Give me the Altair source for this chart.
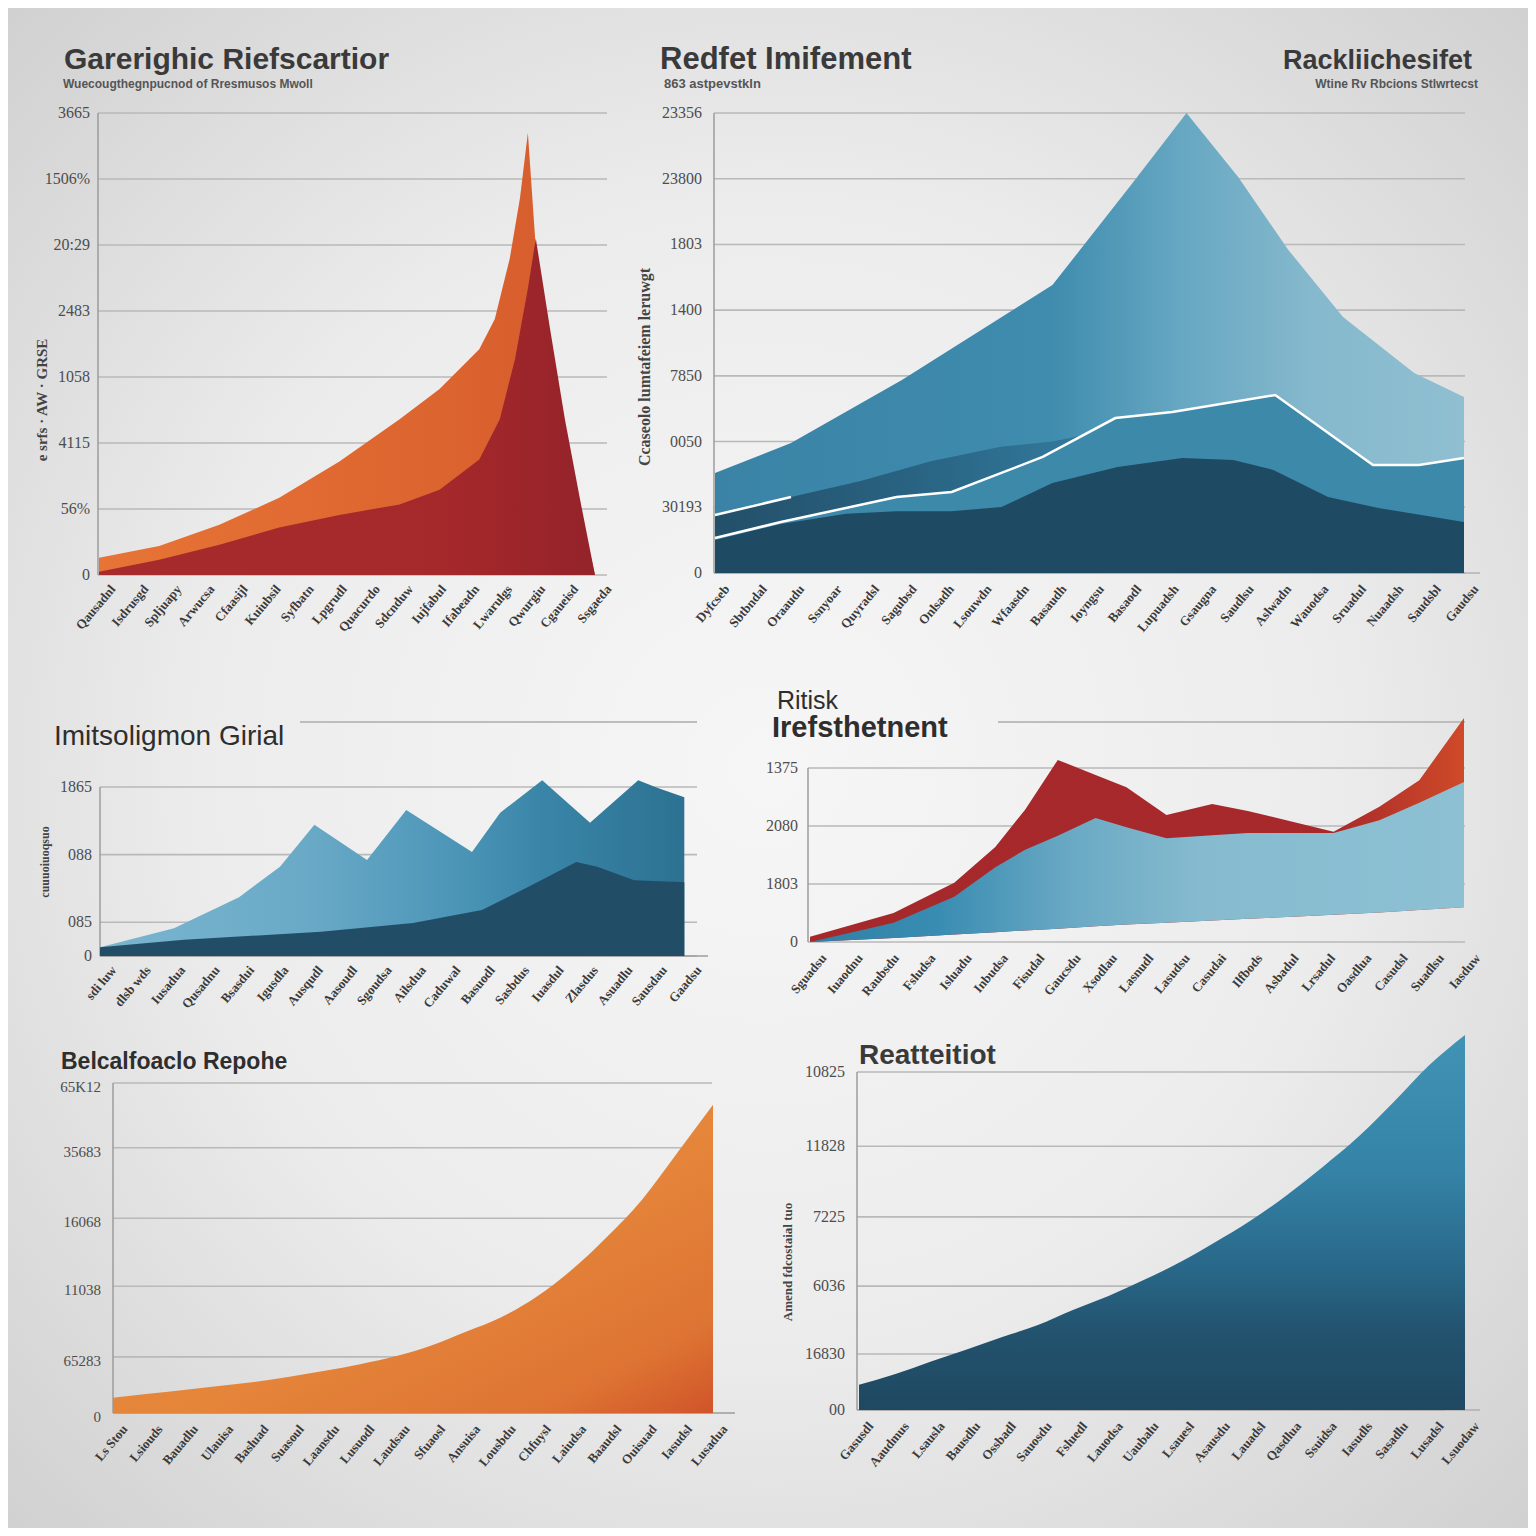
import pandas as pd
import altair as alt

SANS = "Liberation Sans"
SERIF = "Liberation Serif"
GRID = "#b9b9b9"
DOMAIN = "#9c9c9c"

# ---------------- text ----------------
p1_title = "Garerighic Riefscartior"
p1_subtitle = "Wuecougthegnpucnod of Rresmusos Mwoll"
p1_ytitle = "e srfs · AW · GRSE"
p2_title = "Redfet Imifement"
p2_subtitle = "863 astpevstkln"
p2_right_title = "Rackliichesifet"
p2_right_subtitle = "Wtine Rv Rbcions Stlwrtecst"
p2_ytitle = "Ccaseolo lumtafeiem leruwgt"
p3_title = "Imitsoligmon Girial"
p3_ytitle = "cuuuoiuoqsuo"
p4_title = ["Ritisk", "Irefsthetnent"]
p5_title = "Belcalfoaclo Repohe"
p6_title = "Reatteitiot"
p6_ytitle = "Amend fdcostaial tuo"

p1_xlabels = ["Qausadnl", "Isdrusgd", "Spljuapy", "Arwucsa", "Cfaasijl", "Kuiubsil", "Syfbatn",
              "Lpgrudl", "Quacurdo", "Sdcnduw", "Iujfabul", "Ifabeadn", "Lwarulgs", "Qwurgiu",
              "Cgaueisd", "Ssgaeda"]
p2_xlabels = ["Dyfcseb", "Sbtbndal", "Oraaudu", "Ssnyoar", "Quyradsl", "Sagubsd", "Onlsadh",
              "Lsouwdn", "Wfaasdn", "Basaudh", "Ioyngsu", "Basaodl", "Lupuadsh", "Gsaugna",
              "Saudlsu", "Aslwadn", "Wauodsa", "Sruadul", "Nuaadsh", "Saudsbl", "Gaudsu"]
p3_xlabels = ["sdi luw", "dlsb wds", "Iusadua", "Qusadnu", "Bsasdui", "Igusdla", "Ausqudl",
              "Aasoudl", "Sgoudsa", "Ailsdua", "Caduwal", "Basuodl", "Sasbdus", "Iuasdul",
              "Zlasdus", "Asuadlu", "Sausdau", "Gaadsu"]
p4_xlabels = ["Sguadsu", "Iuaodnu", "Raubsdu", "Fsludsa", "Isluadu", "Inbudsa", "Fisudal",
              "Gaucsdu", "Xsodlau", "Lasnudl", "Lasudsu", "Casudai", "Ilfbods", "Asbadul",
              "Lrsadul", "Oasdlua", "Casudsl", "Suadlsu", "Iasduw"]
p5_xlabels = ["Ls Stou", "Lsiouds", "Bauadlu", "Ulauisa", "Basluad", "Suasoul", "Laansdu",
              "Lusuodl", "Laudsau", "Sfuaosl", "Ansuisa", "Lousbdu", "Chfuysl", "Laiudsa",
              "Baaudsl", "Ouisuad", "Iasudsl", "Lusadua"]
p6_xlabels = ["Gasusdl", "Aaudmus", "Lsausla", "Bausdlu", "Ossbadl", "Sauosdu", "Fsluedl",
              "Lauodsa", "Uaubalu", "Lsauesl", "Asausdu", "Lauadsl", "Qasdlua", "Ssuidsa",
              "Iasudls", "Sasadlu", "Lusadsl", "Lsuodaw"]

# ---------------- y ticks ----------------
p1_yticks = [0, 100, 200, 300, 400, 500, 600, 700]
p1_ylabels = ["0", "56%", "4115", "1058", "2483", "20:29", "1506%", "3665"]
p2_yticks = [0, 500, 1000, 1500, 2000, 2500, 3000, 3500]
p2_ylabels = ["0", "30193", "0050", "7850", "1400", "1803", "23800", "23356"]
p3_yticks = [0, 0.5, 1.5, 2.5]
p3_ylabels = ["0", "085", "088", "1865"]
p4_yticks = [0, 1, 2, 3]
p4_ylabels = ["0", "1803", "2080", "1375"]
p5_yticks = [0, 0.85, 1.92, 2.95, 4.02, 5]
p5_ylabels = ["0", "65283", "11038", "16068", "35683", "65K12"]
p6_yticks = [0, 0.8, 1.77, 2.76, 3.77, 4.83]
p6_ylabels = ["00", "16830", "6036", "7225", "11828", "10825"]

# ---------------- series ----------------
p1_orange_x = [0, 1.82, 3.64, 5.45, 7.27, 9.09, 10.3, 11.5, 11.97, 12.42, 12.73, 12.97, 13.21, 13.94, 15]
p1_orange_y = [26, 44, 76, 117, 172, 236, 282, 342, 388, 479, 571, 670, 495, 236, 0]
p1_red_x = [0, 1.82, 3.64, 5.45, 7.27, 9.09, 10.3, 11.5, 12.12, 12.58, 12.97, 13.21, 13.64, 14.09, 14.55, 15]
p1_red_y = [5, 23, 46, 72, 91, 107, 129, 175, 236, 327, 434, 510, 373, 236, 114, 0]

p2_a_x = [0, 2.03, 4.99, 9.01, 11.15, 12.59, 13.97, 15.31, 16.77, 18.67, 20]
p2_a_y = [761, 989, 1469, 2191, 2967, 3500, 3013, 2458, 1948, 1522, 1339]
p2_b_x = [0, 2.03, 3.89, 5.76, 7.63, 9.01, 10.69, 12.21, 14.96, 17.57, 20]
p2_b_y = [441, 578, 700, 850, 960, 1000, 1100, 1150, 1250, 780, 820]
p2_c_x = [0, 1.76, 4.85, 6.32, 8.75, 10.69, 12.21, 14.96, 17.57, 18.8, 20]
p2_c_y = [266, 388, 578, 616, 883, 1179, 1225, 1354, 822, 822, 875]
p2_d_x = [0, 1.76, 3.5, 4.85, 6.32, 7.65, 9.01, 10.75, 12.48, 13.84, 14.91, 16.37, 17.71, 20]
p2_d_y = [251, 373, 450, 470, 470, 502, 685, 807, 875, 860, 784, 578, 495, 388]

p3_light_x = [0, 2.15, 4.04, 5.23, 6.23, 7.76, 8.9, 10.81, 11.63, 12.85, 14.24, 15.64, 16.19, 16.98]
p3_light_y = [0.13, 0.41, 0.87, 1.32, 1.94, 1.42, 2.16, 1.54, 2.12, 2.60, 1.97, 2.60, 2.49, 2.35]
p3_navy_x = [0, 2.44, 6.42, 9.1, 11.1, 12.44, 13.84, 14.45, 15.52, 16.98]
p3_navy_y = [0.13, 0.24, 0.36, 0.49, 0.68, 1.02, 1.39, 1.32, 1.12, 1.09]

p4_x = [0, 2.3, 3.97, 5.1, 5.92, 6.82, 7.86, 8.71, 9.81, 11.07, 12.05, 13.42, 14.41, 15.67, 16.77, 18]
p4_red = [0.09, 0.5, 1.02, 1.64, 2.28, 3.14, 2.88, 2.67, 2.19, 2.38, 2.26, 2.05, 1.90, 2.33, 2.79, 3.86]
p4_blue = [0.0, 0.33, 0.78, 1.29, 1.59, 1.83, 2.14, 1.98, 1.79, 1.84, 1.88, 1.88, 1.88, 2.10, 2.40, 2.76]
p4_base = [0, 0.07, 0.13, 0.17, 0.2, 0.23, 0.27, 0.3, 0.33, 0.37, 0.4, 0.44, 0.47, 0.51, 0.55, 0.6]

p5_y = [0.23, 0.29, 0.35, 0.41, 0.47, 0.55, 0.64, 0.74, 0.86, 1.02, 1.23, 1.45, 1.76, 2.17, 2.67, 3.24, 3.95, 4.67]
p6_y = [0.36, 0.51, 0.69, 0.86, 1.04, 1.21, 1.43, 1.63, 1.86, 2.11, 2.4, 2.71, 3.07, 3.47, 3.9, 4.4, 4.93, 5.36]


# ---------------- helpers ----------------
def lin(stops, x1=0, y1=0, x2=1, y2=0):
    return alt.LinearGradient(gradient="linear", x1=x1, y1=y1, x2=x2, y2=y2,
                              stops=[alt.GradientStop(offset=o, color=c) for o, c in stops])


def lmap(v0, p0, v1, p1):
    k = (p1 - p0) / (v1 - v0)
    return lambda p: v0 + (p - p0) / k


class Panel:
    """A grid cell whose scales are set so data lands on the wanted page pixels."""

    def __init__(self, cell, xmap, ymap):
        x0, y0, x1, y1 = cell
        self.ox, self.oy = x0, y0
        self.w, self.h = x1 - x0, y1 - y0
        fx = lmap(*xmap)
        fy = lmap(ymap[0], -ymap[1], ymap[2], -ymap[3])
        self.px = fx
        self.py = lambda p: fy(-p)
        self.xs = alt.Scale(domain=[round(fx(x0), 5), round(fx(x1), 5)], nice=False, zero=False)
        self.ys = alt.Scale(domain=[round(self.py(y1), 5), round(self.py(y0), 5)], nice=False, zero=False)
        self.layers = []

    def X(self, f="x"):
        return alt.X(f"{f}:Q", scale=self.xs, axis=None)

    def Y(self, f="y"):
        return alt.Y(f"{f}:Q", scale=self.ys, axis=None)

    def grid(self, ticks, xa_px, xb_px, color=GRID, width=1.6):
        df = pd.DataFrame({"y": ticks, "x": [self.px(xa_px)] * len(ticks), "x2": [self.px(xb_px)] * len(ticks)})
        self.layers.append(alt.Chart(df).mark_rule(color=color, strokeWidth=width).encode(
            x=self.X(), x2="x2:Q", y=self.Y()))

    def hline(self, y_val, xa_px, xb_px, color=GRID, width=1.6):
        self.grid([y_val], xa_px, xb_px, color, width)

    def vline(self, x_px, ya, yb, color=DOMAIN, width=1.5):
        df = pd.DataFrame({"x": [self.px(x_px)], "y": [ya], "y2": [yb]})
        self.layers.append(alt.Chart(df).mark_rule(color=color, strokeWidth=width).encode(
            x=self.X(), y=self.Y(), y2="y2:Q"))

    def ylabels(self, ticks, labels, axis_px, pad=8, size=16, yo=0):
        df = pd.DataFrame({"x": [self.px(axis_px)] * len(ticks), "y": ticks, "t": labels})
        self.layers.append(alt.Chart(df).mark_text(
            align="right", baseline="middle", xOffset=-pad, yOffset=yo, font=SERIF, fontSize=size,
            color="#4d4d4d"
        ).encode(x=self.X(), y=self.Y(), text="t:N"))

    def xlabels(self, labels, xo=10, yo=12, size=13):
        df = pd.DataFrame({"x": list(range(len(labels))), "y": [0] * len(labels), "t": labels})
        self.layers.append(alt.Chart(df).mark_text(
            angle=310, align="right", baseline="middle", xOffset=xo, yOffset=yo,
            font=SERIF, fontSize=size, fontWeight="bold", color="#3a3a3a"
        ).encode(x=self.X(), y=self.Y(), text="t:N"))

    def area(self, xs, ys, color, interp="linear", y2=None):
        df = pd.DataFrame({"x": xs, "y": ys})
        enc = dict(x=self.X(), y=self.Y())
        if y2 is not None:
            df["y2"] = y2
            enc["y2"] = "y2:Q"
        self.layers.append(alt.Chart(df).mark_area(color=color, interpolate=interp).encode(**enc))

    def line(self, xs, ys, color="white", width=2.5):
        df = pd.DataFrame({"x": xs, "y": ys})
        self.layers.append(alt.Chart(df).mark_line(color=color, strokeWidth=width).encode(
            x=self.X(), y=self.Y()))

    def text(self, t, page_x, page_y, size, weight="bold", align="left", color="#3a3a3a",
             font=SANS, angle=0, baseline="alphabetic"):
        self.layers.append(alt.Chart(pd.DataFrame({"t": [t]})).mark_text(
            align=align, baseline=baseline, font=font, fontSize=size, fontWeight=weight,
            color=color, angle=angle
        ).encode(x=alt.value(page_x - self.ox), y=alt.value(page_y - self.oy), text="t:N"))

    def ytitle(self, t, page_x, page_y, size):
        self.text(t, page_x, page_y, size, weight="bold", align="center", color="#444",
                  font=SERIF, angle=270, baseline="middle")

    def chart(self):
        return alt.layer(*self.layers).properties(width=self.w, height=self.h)


# grid cells (page pixels): column edges 98 | 714 | 1465, row edges 113 | 575 | 956 | 1413
# ---------------- panel 1 ----------------
P1 = Panel((98, 113, 714, 575), (0, 99, 15, 595), (0, 575, 700, 113))
bg = alt.Chart(pd.DataFrame({"v": [0]})).mark_rect(
    color=alt.RadialGradient(gradient="radial", x1=0.5, y1=0.5, x2=0.5, y2=0.5, r1=0, r2=0.75,
                             stops=[alt.GradientStop(offset=0, color="#f6f6f6"),
                                    alt.GradientStop(offset=0.5, color="#ececec"),
                                    alt.GradientStop(offset=1, color="#cdcdcd")])
).encode(x=alt.value(-90), x2=alt.value(1430), y=alt.value(-105), y2=alt.value(1415))
P1.layers.append(bg)
P1.grid(p1_yticks, 98, 607)
P1.vline(98, 0, 700)
P1.area(p1_orange_x, p1_orange_y, lin([(0, "#e77436"), (0.7, "#dc642f"), (1, "#d45a2c")]))
P1.area(p1_red_x, p1_red_y, lin([(0, "#a72a2c"), (0.7, "#a5282b"), (1, "#94232a")]))
P1.ylabels(p1_yticks, p1_ylabels, 98, pad=8)
P1.xlabels(p1_xlabels, xo=14, yo=12)
P1.ytitle(p1_ytitle, 42, 400, 15)
P1.text(p1_title, 64, 69, 30)
P1.text(p1_subtitle, 63, 88, 12, color="#555")

# ---------------- panel 2 ----------------
P2 = Panel((714, 113, 1465, 575), (0, 715, 20, 1464), (0, 573, 3500, 113))
P2.grid(p2_yticks, 714, 1465)
P2.hline(0, 714, 1480, color=DOMAIN, width=1.2)
P2.vline(714, 0, 3500)
P2.area(p2_a_x, p2_a_y, lin([(0, "#3a83a6"), (0.45, "#3f8cae"), (0.62, "#66a7c2"), (0.8, "#86b9cd"), (1, "#8fbfd1")]))
P2.area(p2_b_x, p2_b_y, lin([(0, "#234f69"), (0.3, "#2a6686"), (0.55, "#3680a3"), (1, "#3d89ab")]))
P2.area(p2_c_x, p2_c_y, "#3d89aa")
P2.area(p2_d_x, p2_d_y, "#1f4a63")
P2.line(p2_c_x, p2_c_y)
P2.line(p2_b_x[:2], p2_b_y[:2])
P2.ylabels(p2_yticks, p2_ylabels, 714, pad=12)
P2.xlabels(p2_xlabels, xo=12, yo=14)
P2.ytitle(p2_ytitle, 645, 367, 16)
P2.text(p2_title, 660, 69, 31)
P2.text(p2_subtitle, 664, 88, 13, color="#555")
P2.text(p2_right_title, 1472, 69, 27, align="right")
P2.text(p2_right_subtitle, 1478, 88, 12, align="right", color="#555")

# ---------------- panel 3 ----------------
P3 = Panel((98, 575, 714, 956), (0, 100, 17, 685), (0, 956, 2.5, 787))
P3.grid(p3_yticks, 100, 697)
P3.hline(0, 100, 708, color=DOMAIN, width=1.5)
P3.hline(P3.py(722), 300, 697, color="#bdbdbd", width=2)
P3.vline(100, 0, 2.5)
P3.area(p3_light_x, p3_light_y,
        lin([(0, "#7ab5cf"), (0.35, "#6aaac7"), (0.6, "#4d96b8"), (0.75, "#3a86a9"), (1, "#2c7191")]))
P3.area(p3_navy_x, p3_navy_y, "#224d67")
P3.ylabels(p3_yticks, p3_ylabels, 100, pad=8)
P3.xlabels(p3_xlabels, xo=14, yo=12)
P3.ytitle(p3_ytitle, 45, 862, 12)
P3.text(p3_title, 54, 745, 28, weight="normal", color="#2e2e2e")

# ---------------- panel 4 ----------------
P4 = Panel((714, 575, 1465, 956), (0, 810, 18, 1464), (0, 942, 3, 768))
P4.grid(p4_yticks, 808, 1465)
P4.hline(P4.py(722), 998, 1465, color="#bdbdbd", width=2)
P4.vline(808, 0, 3)
P4.area(p4_x, p4_red, lin([(0, "#a5282b"), (0.8, "#a8292b"), (1, "#cf4a28")]), y2=p4_base)
P4.area(p4_x, p4_blue, lin([(0, "#2f7fa5"), (0.2, "#3a8db2"), (0.4, "#6aa9c4"), (0.6, "#86bbcf"), (1, "#8dc0d3")]),
        y2=p4_base)
P4.ylabels(p4_yticks, p4_ylabels, 808, pad=10)
P4.xlabels(p4_xlabels, xo=14, yo=14)
P4.text(p4_title[0], 777, 709, 25, weight="normal", color="#2e2e2e")
P4.text(p4_title[1], 772, 737, 29, weight="bold", color="#2e2e2e")

# ---------------- panel 5 ----------------
P5 = Panel((98, 956, 714, 1413), (0, 113, 17, 713), (0, 1413, 5, 1083))
P5.grid(p5_yticks, 113, 712)
P5.hline(0, 113, 735, color=DOMAIN, width=1.5)
P5.vline(113, 0, 5)
P5.area(list(range(len(p5_y))), p5_y,
        lin([(0, "#e98c3b"), (0.55, "#e5853a"), (0.85, "#de7433"), (1, "#d0542a")], 0, 0, 1, 1),
        interp="monotone")
P5.ylabels(p5_yticks, p5_ylabels, 113, pad=12, size=15, yo=4)
P5.xlabels(p5_xlabels, xo=12, yo=14)
P5.text(p5_title, 61, 1069, 23, weight="bold", color="#2e2e2e")

# ---------------- panel 6 ----------------
P6 = Panel((714, 956, 1465, 1413), (0, 859, 17, 1465), (0, 1410, 4.83, 1072))
P6.grid(p6_yticks, 857, 1445)
P6.hline(0, 857, 1480, color=DOMAIN, width=1.2)
P6.vline(857, 0, 4.83)
P6.area(list(range(len(p6_y))), p6_y,
        lin([(0, "#4193b4"), (0.35, "#3584a8"), (0.6, "#2a6a8c"), (0.8, "#22526d"), (1, "#1f4861")], 0, 0, 0, 1),
        interp="monotone")
P6.ylabels(p6_yticks, p6_ylabels, 857, pad=12)
P6.xlabels(p6_xlabels, xo=12, yo=14)
P6.ytitle(p6_ytitle, 788, 1262, 13)
P6.text(p6_title, 859, 1064, 28)

chart = alt.concat(P1.chart(), P2.chart(), P3.chart(), P4.chart(), P5.chart(), P6.chart(),
                   columns=2, spacing=0, bounds="flush").properties(
    padding=0, background="#e4e4e4"
).configure_view(stroke=None)

chart.save("out.html", embed_options={"renderer": "svg", "actions": False})
